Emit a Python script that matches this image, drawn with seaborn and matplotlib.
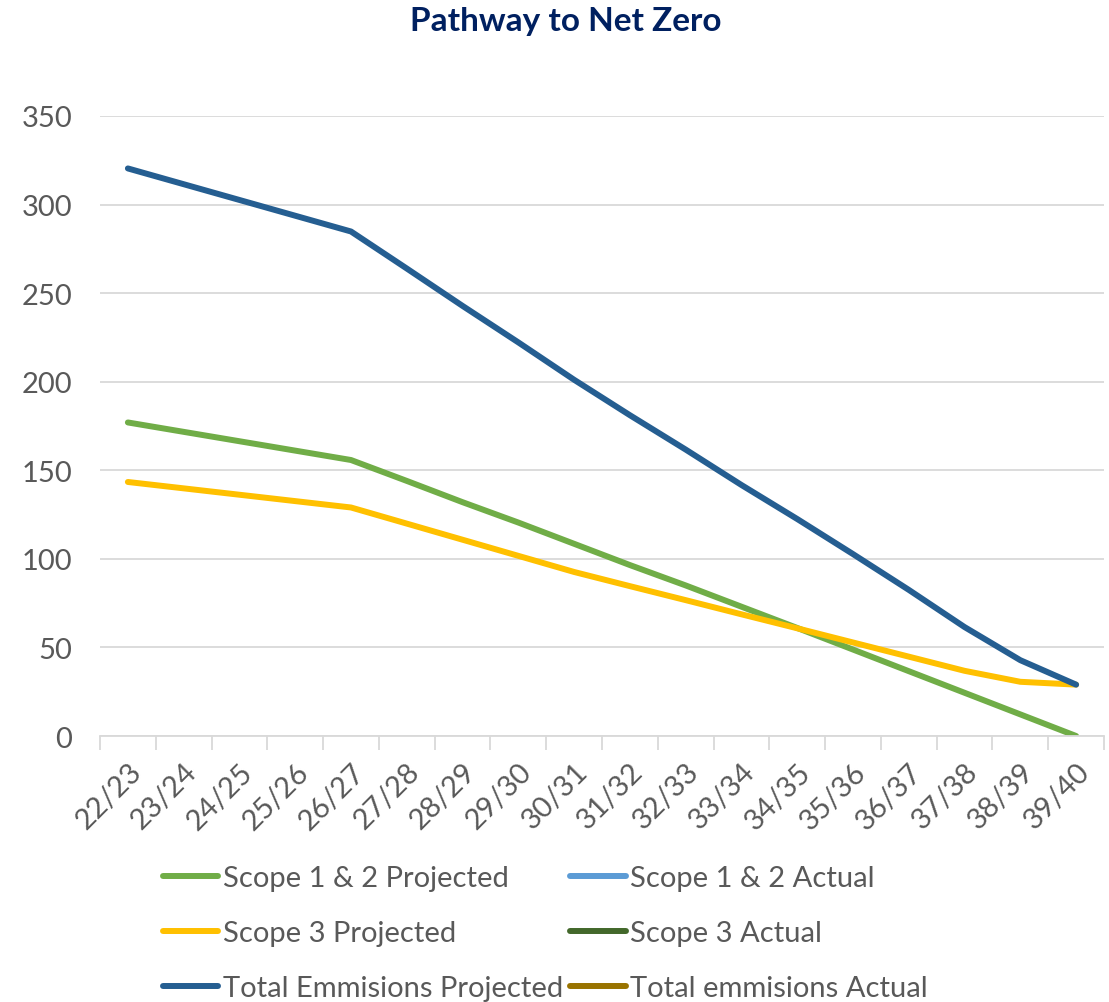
import matplotlib
matplotlib.use("Agg")
import matplotlib.pyplot as plt
from matplotlib.lines import Line2D
import numpy as np
import pandas as pd
import seaborn as sns

# financial years on the x axis
years = ["22/23", "23/24", "24/25", "25/26", "26/27", "27/28", "28/29", "29/30", "30/31",
         "31/32", "32/33", "33/34", "34/35", "35/36", "36/37", "37/38", "38/39", "39/40"]

# values
scope12_proj = [177, 171.7, 166.4, 161.1, 155.8, 144, 132, 120.5, 108.5,
                96.5, 85, 73, 61, 48.8, 36.6, 24.4, 12.2, 0]
scope3_proj = [143.4, 139.8, 136.2, 132.6, 129, 119.9, 110.8, 101.7, 92.6,
               84.6, 76.7, 68.7, 60.8, 52.8, 44.8, 36.8, 30.6, 29]
total_proj = [320.4, 311.5, 302.6, 293.7, 284.8, 263.9, 242.8, 222.2, 201.1,
              181.1, 161.7, 141.7, 122.5, 102.7, 82.5, 61.5, 42.8, 29]

series_names = ["Scope 1 & 2 Projected", "Scope 1 & 2 Actual",
                "Scope 3 Projected", "Scope 3 Actual",
                "Total Emmisions Projected", "Total emmisions Actual"]
colors = ["#70AD47", "#5B9BD5", "#FFC000", "#43682B", "#255E91", "#997300"]

sns.set_style("white")
plt.rcParams["font.family"] = ["Lato", "DejaVu Sans"]

df = pd.DataFrame({
    "year": years * 3,
    "value": scope12_proj + scope3_proj + total_proj,
    "series": [series_names[0]] * 18 + [series_names[2]] * 18 + [series_names[4]] * 18,
})

fig = plt.figure(figsize=(11.09, 10.03), dpi=100)
ax = fig.add_axes([100 / 1109, 1 - 737 / 1003, 1004 / 1109, 620 / 1003])

sns.lineplot(data=df, x="year", y="value", hue="series",
             palette={series_names[0]: colors[0], series_names[2]: colors[2],
                      series_names[4]: colors[4]},
             linewidth=4.3, sort=False, legend=False, ax=ax,
             solid_capstyle="round", solid_joinstyle="round")

ax.set_ylim(0, 350)
ax.set_xlim(-0.5, len(years) - 0.5)
ax.set_yticks(range(0, 351, 50))
ax.set_xlabel("")
ax.set_ylabel("")
ax.grid(axis="y", color="#d9d9d9", linewidth=1.3)
ax.set_axisbelow(True)
for side in ["top", "right", "left"]:
    ax.spines[side].set_visible(False)
ax.spines["bottom"].set_color("#d9d9d9")
ax.spines["bottom"].set_linewidth(1.3)

ax.set_xticks(np.arange(len(years)))
ax.set_xticklabels(years, rotation=45, ha="right", rotation_mode="anchor")
ax.set_xticks(np.arange(len(years) + 1) - 0.5, minor=True)
ax.tick_params(axis="x", which="major", length=0, pad=16, labelsize=21, labelcolor="#595959")
ax.tick_params(axis="x", which="minor", length=10, width=1.3, color="#d9d9d9", bottom=True)
ax.tick_params(axis="y", length=0, pad=20, labelsize=21, labelcolor="#595959")

fig.suptitle("Pathway to Net Zero", x=566 / 1109, y=1 - 22 / 1003, va="center",
             fontsize=24, fontweight="bold", color="#002060")

# legend filled row by row like the original: projected left, actual right
order = [0, 2, 4, 1, 3, 5]
handles = [Line2D([], [], color=colors[i], linewidth=4.3, solid_capstyle="round") for i in order]
labels = [series_names[i] for i in order]
fig.legend(handles, labels, loc="upper left", ncol=2,
           bbox_to_anchor=(163 / 1109, 1 - 866 / 1003), frameon=False,
           fontsize=21, labelcolor="#595959", handlelength=1.9, handletextpad=0.15,
           columnspacing=0.25, labelspacing=1.0, borderaxespad=0, borderpad=0)

fig.savefig("out.png", dpi=100)
